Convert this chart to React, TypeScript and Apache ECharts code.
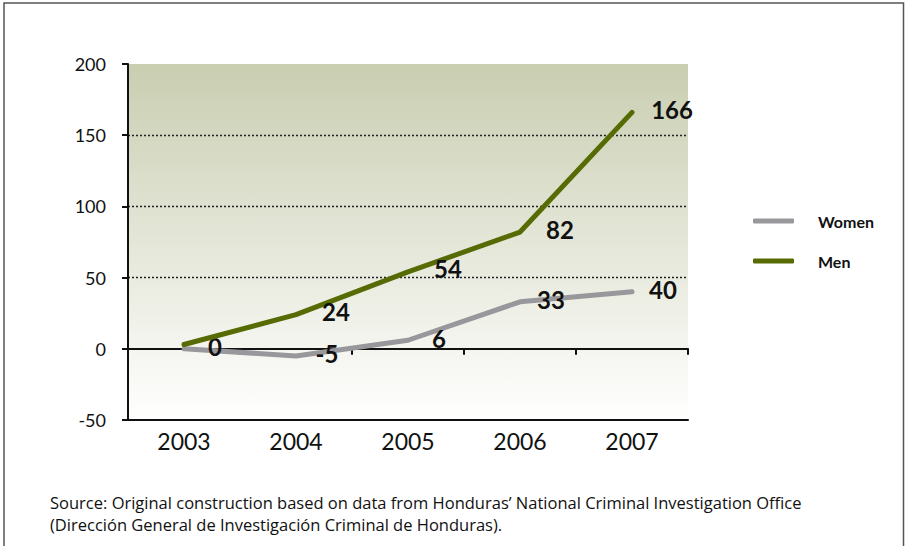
import React, { useEffect, useRef } from "react";
import * as echarts from "echarts";

const years = ["2003", "2004", "2005", "2006", "2007"];
const womenValues = [0, -5, 6, 33, 40];
const menValues = [3, 24, 54, 82, 166];
const menLabelShown = [false, true, true, true, true];
const yMin = -50;
const yMax = 200;
const yStep = 50;
const sourceLines = [
  "Source: Original construction based on data from Honduras\u2019 National Criminal Investigation Office",
  "(Direcci\u00f3n General de Investigaci\u00f3n Criminal de Honduras).",
];

const FONT = "Lato, 'Open Sans', 'DejaVu Sans', sans-serif";
const SRC_FONT = "'Open Sans', 'Noto Sans', sans-serif";
const GREEN = "#566b04";
const GRAY = "#98989c";

export default function App() {
  const ref = useRef<HTMLDivElement>(null);
  useEffect(() => {
    if (!ref.current) return;
    const chart = echarts.init(ref.current, undefined, { renderer: "svg" });
    const labelBase = {
      show: true,
      position: "right",
      distance: 0,
      align: "center",
      verticalAlign: "middle",
      fontFamily: FONT,
      fontWeight: "bold",
      fontSize: 24,
      color: "#111",
    };
    const splitColors = [];
    for (let v = yMin; v <= yMax; v += yStep) {
      splitColors.push(v === 0 || v === yMin || v === yMax ? "rgba(0,0,0,0)" : "#222");
    }
    chart.setOption({
      animation: false,
      backgroundColor: "#ffffff",
      grid: {
        left: 128,
        right: 218,
        top: 64,
        bottom: 126,
        show: true,
        borderWidth: 0,
        backgroundColor: new echarts.graphic.LinearGradient(0, 0, 0, 1, [
          { offset: 0, color: "#c9ceb1" },
          { offset: 1, color: "#ffffff" },
        ]),
      },
      legend: {
        orient: "vertical",
        left: 748,
        top: 208,
        itemWidth: 41,
        itemHeight: 5,
        itemGap: 24,
        icon: "roundRect",
        textStyle: {
          fontFamily: FONT,
          fontWeight: "bold",
          fontSize: 16,
          lineHeight: 16,
          color: "#111",
          padding: [0, 0, 0, 19],
        },
        data: [
          { name: "Women", itemStyle: { color: GRAY } },
          { name: "Men", itemStyle: { color: GREEN } },
        ],
      },
      xAxis: [
        {
          type: "category",
          data: years,
          boundaryGap: true,
          position: "bottom",
          axisLine: { onZero: false, lineStyle: { color: "#111", width: 2 } },
          axisTick: { show: false },
          axisLabel: { fontFamily: FONT, fontSize: 23, color: "#111", margin: 9 },
          splitLine: { show: false },
        },
        {
          type: "category",
          data: years,
          boundaryGap: true,
          position: "bottom",
          axisLine: { onZero: true, onZeroAxisIndex: 0, lineStyle: { color: "#111", width: 2 } },
          axisTick: { show: true, length: 6, lineStyle: { color: "#111", width: 2 } },
          axisLabel: { show: false },
          splitLine: { show: false },
        },
      ],
      yAxis: {
        type: "value",
        min: yMin,
        max: yMax,
        interval: yStep,
        axisLine: { show: true, lineStyle: { color: "#111", width: 2 } },
        axisTick: { show: true, length: 6, lineStyle: { color: "#111", width: 2 } },
        axisLabel: { fontFamily: FONT, fontSize: 18, color: "#111", margin: 22 },
        splitLine: {
          show: true,
          lineStyle: { color: splitColors, width: 1.3, type: [2, 2] },
        },
      },
      series: [
        {
          name: "Women",
          type: "line",
          data: womenValues,
          symbol: "circle",
          symbolSize: 4,
          itemStyle: { color: GRAY },
          lineStyle: { color: GRAY, width: 5, cap: "round", join: "round" },
          label: { ...labelBase, offset: [29, -2] },
          z: 3,
        },
        {
          name: "Men",
          type: "line",
          data: menValues.map((v, i) =>
            menLabelShown[i] ? v : { value: v, label: { show: false } }
          ),
          symbol: "circle",
          symbolSize: 4,
          itemStyle: { color: GREEN },
          lineStyle: { color: GREEN, width: 5, cap: "round", join: "round" },
          label: { ...labelBase, offset: [38, -3] },
          z: 4,
        },
      ],
      graphic: [
        {
          type: "rect",
          shape: { x: 4, y: 3, width: 899.5, height: 600 },
          style: { fill: "none", stroke: "#555", lineWidth: 1.5 },
          silent: true,
        },
        {
          type: "text",
          left: 50,
          top: 492,
          style: {
            text: sourceLines.join("\n"),
            fontFamily: SRC_FONT,
            fontSize: 16.5,
            lineHeight: 21.5,
            fill: "#111",
          },
        },
      ],
    });
    return () => chart.dispose();
  }, []);
  return (
    <div
      ref={ref}
      style={{ position: "absolute", left: 0, top: 0, width: 906, height: 546 }}
    />
  );
}
